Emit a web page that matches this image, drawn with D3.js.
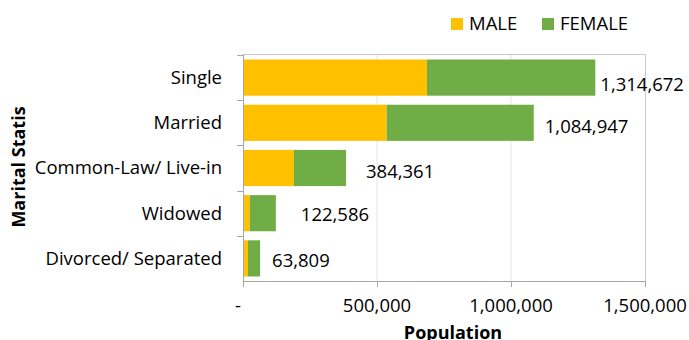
<!DOCTYPE html>
<html><head><meta charset="utf-8">
<script src="https://cdn.jsdelivr.net/npm/d3@7"></script>
<style>body{margin:0;background:#fff}svg{display:block;font-family:"Open Sans",sans-serif}</style>
</head><body><svg id="c" width="689" height="340"></svg>
<script>
const categories = ["Single","Married","Common-Law/ Live-in","Widowed","Divorced/ Separated"];
const totals = [1314672,1084947,384361,122586,63809];
const male = [686500,536200,190300,25000,18700];
const female = totals.map((t,i)=>t-male[i]);
const xTicks = [0,500000,1000000,1500000];
const seriesNames = ["MALE","FEMALE"];
const colors = ["#FFC000","#70AD47"];
const labelDx = [5,11,20,25,12];
const labelDy = [7,4,4,1,2];

const svg = d3.select("#c");
const FS = 18.5, TFS = 18;
const x = d3.scaleLinear().domain([0,1500000]).range([243, 645]);
const y = d3.scaleBand().domain(categories).range([55,281]).paddingInner(0.2).paddingOuter(0.1);

svg.append("g").selectAll("line").data(xTicks.slice(1,3)).join("line")
  .attr("x1",d=>x(d)).attr("x2",d=>x(d)).attr("y1",54).attr("y2",281)
  .attr("stroke","#e4e4e4").attr("stroke-width",1);
svg.append("path").attr("d",`M${x(0)},54.5H645.5V281`).attr("fill","none").attr("stroke","#c8c8c8");

const stack = categories.map((c,i)=>({c, m:male[i], f:female[i], t:totals[i], i}));
const g = svg.append("g");
g.selectAll("rect.m").data(stack).join("rect").attr("class","m")
  .attr("x",x(0)).attr("y",d=>y(d.c)).attr("height",y.bandwidth())
  .attr("width",d=>x(d.m)-x(0)).attr("fill",colors[0]);
g.selectAll("rect.f").data(stack).join("rect").attr("class","f")
  .attr("x",d=>x(d.m)).attr("y",d=>y(d.c)).attr("height",y.bandwidth())
  .attr("width",d=>x(d.t)-x(d.m)).attr("fill",colors[1]);

svg.append("g").selectAll("text").data(stack).join("text")
  .attr("x",d=>x(d.t)+labelDx[d.i]).attr("y",d=>y(d.c)+y.bandwidth()/2+labelDy[d.i])
  .attr("dy","0.35em").attr("font-size",FS).attr("fill","#000")
  .text(d=>d3.format(",")(d.t));

const ya = svg.append("g").attr("transform",`translate(${x(0)},0)`);
ya.append("line").attr("x1",0.5).attr("x2",0.5).attr("y1",54).attr("y2",287).attr("stroke","#a6a6a6");
const bounds = d3.range(categories.length).map(i=>55+i*45.2);
ya.selectAll("line.t").data(bounds).join("line").attr("class","t")
  .attr("x1",-6).attr("x2",0).attr("y1",d=>Math.round(d)+0.5).attr("y2",d=>Math.round(d)+0.5).attr("stroke","#a6a6a6");
svg.append("g").selectAll("text").data(categories).join("text")
  .attr("x",222).attr("y",d=>y(d)+y.bandwidth()/2).attr("dy","0.35em")
  .attr("text-anchor","end").attr("font-size",FS).attr("fill","#000").text(d=>d);

const xa = svg.append("g");
xa.append("line").attr("x1",x(0)).attr("x2",645).attr("y1",281.5).attr("y2",281.5).attr("stroke","#a6a6a6");
xa.selectAll("line.t").data(xTicks).join("line").attr("class","t")
  .attr("x1",d=>Math.round(x(d))+0.5).attr("x2",d=>Math.round(x(d))+0.5).attr("y1",281).attr("y2",287).attr("stroke","#a6a6a6");
xa.selectAll("text").data(xTicks).join("text")
  .attr("x",d=>d===0?x(d)-5:x(d)).attr("y",306).attr("dy","0.35em")
  .attr("text-anchor","middle").attr("font-size",FS).attr("fill","#000")
  .text(d=>d===0?"-":d3.format(",")(d));

svg.append("text").attr("x",453).attr("y",339).attr("text-anchor","middle")
  .attr("font-size",TFS).attr("font-weight","bold").text("Population");
svg.append("text").attr("transform","translate(25,167) rotate(-90)").attr("text-anchor","middle")
  .attr("font-size",TFS).attr("font-weight","bold").text("Marital Statis");

const lg = svg.append("g");
const lx = [451,542];
seriesNames.forEach((s,i)=>{
  lg.append("rect").attr("x",lx[i]).attr("y",18).attr("width",12).attr("height",12).attr("fill",colors[i]);
  lg.append("text").attr("x",lx[i]+18).attr("y",24).attr("dy","0.35em").attr("font-size",FS).text(s);
});
</script></body></html>
